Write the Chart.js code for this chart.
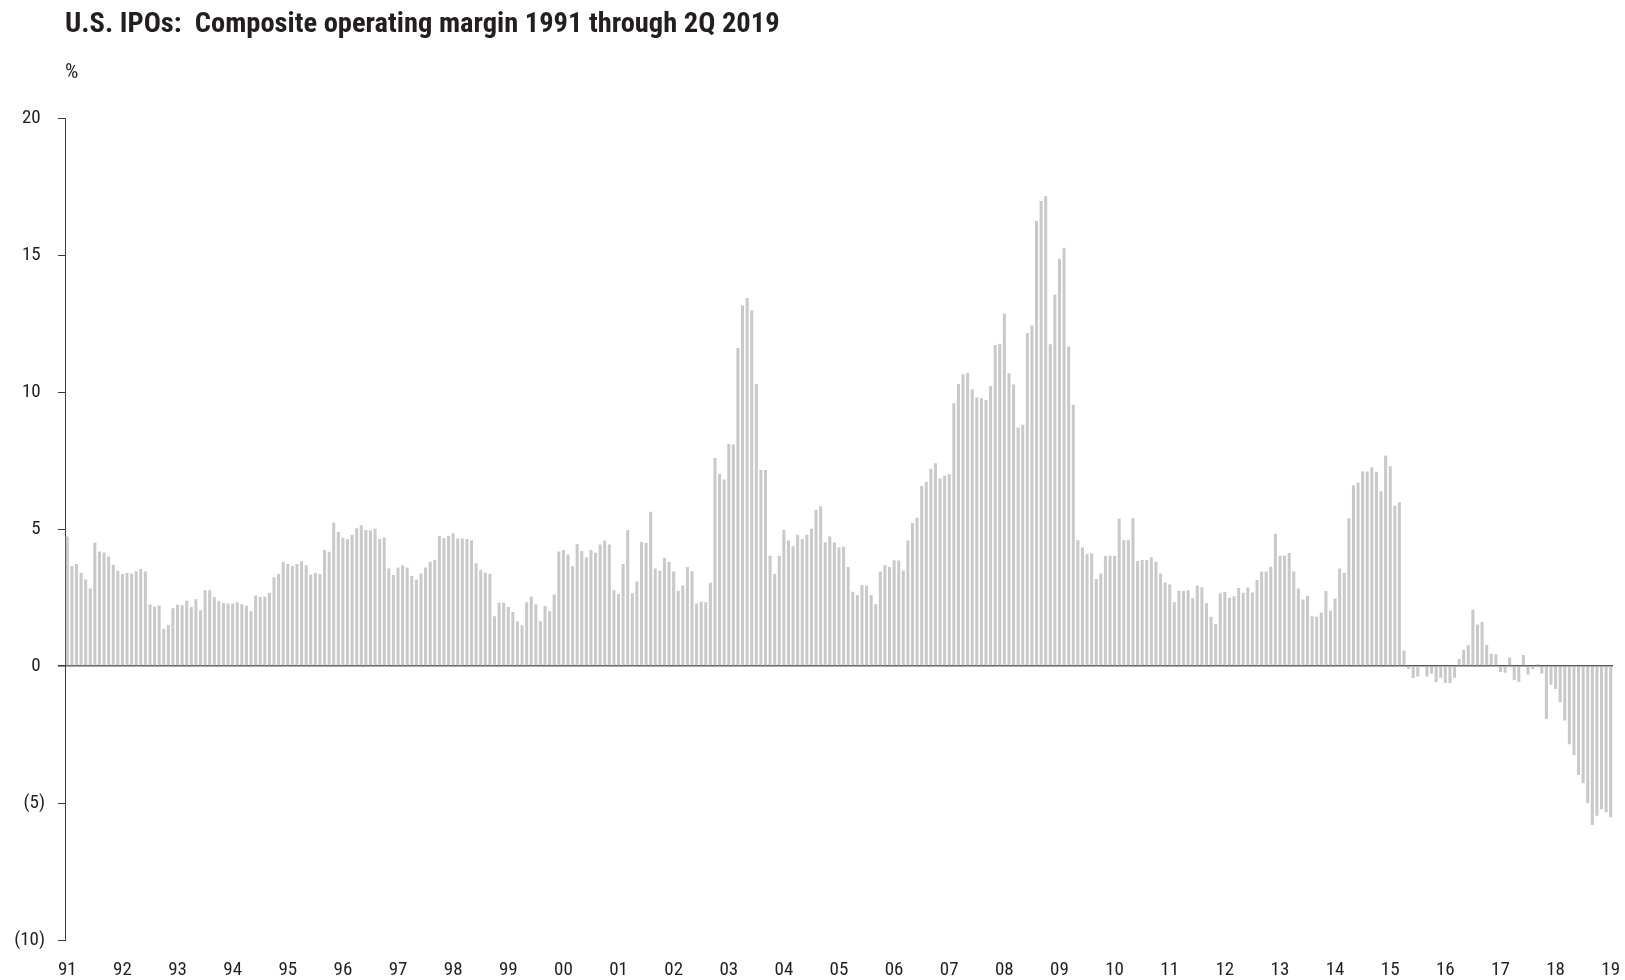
<!DOCTYPE html>
<html>
<head>
<meta charset="utf-8">
<title>U.S. IPOs: Composite operating margin</title>
<script src="https://cdn.jsdelivr.net/npm/chart.js@4.4.1/dist/chart.umd.min.js"></script>
<style>
  html, body { margin: 0; padding: 0; background: #ffffff; }
  #wrap { position: relative; width: 1625px; height: 980px; }
</style>
</head>
<body>
<div id="wrap"><canvas id="chart" width="1625" height="980"></canvas></div>
<script>
// Year labels shown under the first month of each year
const yearTicks = ['91','92','93','94','95','96','97','98','99','00','01','02','03','04',
  '05','06','07','08','09','10','11','12','13','14','15','16','17','18','19'];

// Monthly composite operating margin (%), Jan 1991 onward
const margins = [
  // 1991
  4.73, 3.65, 3.73, 3.41, 3.16, 2.83, 4.51, 4.18, 4.15, 4.00, 3.70, 3.48,
  // 1992
  3.36, 3.41, 3.38, 3.46, 3.54, 3.45, 2.25, 2.17, 2.21, 1.36, 1.50, 2.11,
  // 1993
  2.25, 2.22, 2.39, 2.16, 2.44, 2.04, 2.77, 2.77, 2.52, 2.37, 2.30, 2.28,
  // 1994
  2.28, 2.33, 2.26, 2.20, 2.00, 2.58, 2.52, 2.53, 2.68, 3.24, 3.36, 3.80,
  // 1995
  3.73, 3.65, 3.73, 3.82, 3.68, 3.34, 3.41, 3.36, 4.24, 4.17, 5.24, 4.90,
  // 1996
  4.68, 4.63, 4.79, 5.03, 5.14, 4.97, 4.96, 5.01, 4.64, 4.69, 3.56, 3.32,
  // 1997
  3.60, 3.68, 3.60, 3.29, 3.16, 3.38, 3.60, 3.81, 3.87, 4.75, 4.67, 4.75,
  // 1998
  4.85, 4.66, 4.66, 4.64, 4.59, 3.75, 3.51, 3.42, 3.37, 1.82, 2.31, 2.31,
  // 1999
  2.16, 1.97, 1.63, 1.49, 2.33, 2.54, 2.26, 1.64, 2.19, 2.00, 2.61, 4.18,
  // 2000
  4.24, 4.07, 3.64, 4.46, 4.20, 3.96, 4.24, 4.14, 4.44, 4.58, 4.44, 2.77,
  // 2001
  2.63, 3.73, 4.96, 2.66, 3.09, 4.53, 4.50, 5.63, 3.56, 3.48, 3.95, 3.80,
  // 2002
  3.45, 2.75, 2.94, 3.62, 3.47, 2.28, 2.35, 2.33, 3.04, 7.60, 7.01, 6.81,
  // 2003
  8.11, 8.09, 11.61, 13.16, 13.44, 12.98, 10.30, 7.16, 7.16, 4.03, 3.36, 4.03,
  // 2004
  4.97, 4.58, 4.37, 4.79, 4.64, 4.79, 5.01, 5.71, 5.83, 4.52, 4.73, 4.51,
  // 2005
  4.33, 4.36, 3.62, 2.71, 2.59, 2.96, 2.93, 2.59, 2.26, 3.45, 3.69, 3.62,
  // 2006
  3.86, 3.85, 3.49, 4.58, 5.22, 5.41, 6.57, 6.73, 7.20, 7.40, 6.85, 6.95,
  // 2007
  7.00, 9.60, 10.30, 10.65, 10.70, 10.10, 9.80, 9.78, 9.71, 10.22, 11.72, 11.77,
  // 2008
  12.87, 10.69, 10.28, 8.71, 8.81, 12.16, 12.43, 16.25, 16.98, 17.15, 11.75, 13.56,
  // 2009
  14.87, 15.27, 11.67, 9.54, 4.59, 4.33, 4.09, 4.12, 3.18, 3.38, 4.02, 4.03,
  // 2010
  4.03, 5.39, 4.59, 4.59, 5.40, 3.84, 3.87, 3.87, 3.97, 3.81, 3.38, 3.05,
  // 2011
  2.98, 2.33, 2.75, 2.74, 2.77, 2.48, 2.94, 2.88, 2.30, 1.80, 1.54, 2.66,
  // 2012
  2.70, 2.49, 2.55, 2.85, 2.68, 2.87, 2.69, 3.14, 3.45, 3.45, 3.63, 4.83,
  // 2013
  4.03, 4.04, 4.13, 3.45, 2.83, 2.43, 2.57, 1.82, 1.80, 1.96, 2.74, 2.02,
  // 2014
  2.47, 3.56, 3.41, 5.40, 6.60, 6.70, 7.10, 7.10, 7.25, 7.09, 6.38, 7.69,
  // 2015
  7.29, 5.85, 5.98, 0.57, -0.11, -0.44, -0.38, -0.02, -0.38, -0.28, -0.59, -0.43,
  // 2016
  -0.62, -0.62, -0.43, 0.26, 0.60, 0.76, 2.06, 1.52, 1.61, 0.77, 0.45, 0.43,
  // 2017
  -0.22, -0.24, 0.31, -0.51, -0.57, 0.40, -0.31, -0.11, 0.07, -0.27, -1.93, -0.68,
  // 2018
  -0.84, -1.32, -1.99, -2.85, -3.26, -3.98, -4.28, -5.01, -5.80, -5.46, -5.23, -5.34,
  // 2019
  -5.52
];

// One category per month, keyed by year label and month number
const months = [];
for (let i = 0; i < margins.length; i++) {
  months.push(yearTicks[Math.floor(i / 12)] + '-' + (i % 12 + 1));
}

const FONT = "'Roboto Condensed', 'Open Sans', sans-serif";
const TEXT = '#231f20';
const TITLE = 'U.S. IPOs:  Composite operating margin 1991 through 2Q 2019';

// Size the headline so it spans a fixed width
const measureCtx = document.createElement('canvas').getContext('2d');
measureCtx.font = "bold 100px " + FONT;
const titleSize = Math.round(100 * 714 / measureCtx.measureText(TITLE).width * 10) / 10;

new Chart(document.getElementById('chart'), {
  type: 'bar',
  data: {
    labels: months,
    datasets: [{
      data: margins,
      backgroundColor: '#c8c9ca',
      borderWidth: 0,
      barPercentage: 0.66,
      categoryPercentage: 1.0
    }]
  },
  options: {
    responsive: false,
    animation: false,
    layout: { padding: { left: 0, right: 12, top: 0, bottom: 0 } },
    plugins: {
      legend: { display: false },
      tooltip: { enabled: false },
      title: {
        display: true,
        text: TITLE,
        align: 'start',
        fullSize: false,
        color: TEXT,
        font: { family: FONT, size: titleSize, weight: 'bold', lineHeight: 1.2 },
        padding: { top: 8, bottom: 52 - titleSize * 1.2 }
      },
      subtitle: {
        display: true,
        text: '%',
        align: 'start',
        fullSize: false,
        color: TEXT,
        font: { family: FONT, size: 21, weight: 'normal', lineHeight: 1.2 },
        padding: { top: 0, bottom: 33 }
      }
    },
    scales: {
      x: {
        type: 'category',
        offset: true,
        grid: { display: false },
        border: { display: false },
        ticks: {
          autoSkip: false,
          maxRotation: 0,
          minRotation: 0,
          padding: 11,
          color: TEXT,
          font: { family: FONT, size: 19 },
          callback: (v, i) => (i % 12 === 0 ? yearTicks[i / 12] : '')
        },
        afterFit: (scale) => { scale.height = 40; scale.paddingLeft = 0; scale.paddingRight = 0; }
      },
      y: {
        min: -10,
        max: 20,
        border: { display: true, color: '#3a3a3a', width: 1 },
        grid: {
          drawOnChartArea: true,
          drawTicks: true,
          tickLength: 7,
          tickColor: '#3a3a3a',
          color: (ctx) => (ctx.tick && ctx.tick.value === 0 ? '#5a5a5a' : 'rgba(0,0,0,0)'),
          lineWidth: (ctx) => (ctx.tick && ctx.tick.value === 0 ? 1.6 : 1)
        },
        ticks: {
          stepSize: 5,
          padding: 13,
          color: TEXT,
          font: { family: FONT, size: 19 },
          // negatives in parentheses; a trailing space keeps the digits lined up
          callback: (v) => (v < 0 ? '(' + (-v) + ')' : String(v) + ' ')
        },
        afterFit: (scale) => { scale.width = 65; }
      }
    }
  }
});
</script>
</body>
</html>
